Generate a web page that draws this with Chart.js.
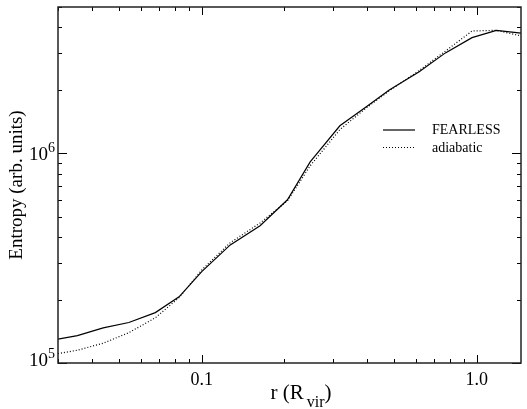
<!DOCTYPE html>
<html>
<head>
<meta charset="utf-8">
<script src="https://cdn.jsdelivr.net/npm/chart.js@4/dist/chart.umd.min.js"></script>
<style>
  body { margin: 0; background: #fff; }
  #wrap { width: 527px; height: 409px; }
</style>
</head>
<body>
<div id="wrap"><canvas id="myChart"></canvas></div>
<script>
// radius in units of R_vir, entropy in arbitrary units
const radius = [0.030, 0.0353, 0.0438, 0.0543, 0.0678, 0.0827, 0.100, 0.127, 0.163, 0.205, 0.248, 0.318, 0.397, 0.481, 0.616, 0.770, 0.962, 1.18, 1.45];
const fearless = [1.30e5, 1.35e5, 1.47e5, 1.56e5, 1.74e5, 2.07e5, 2.73e5, 3.66e5, 4.52e5, 6.01e5, 9.12e5, 1.355e6, 1.67e6, 2.01e6, 2.45e6, 3.02e6, 3.57e6, 3.87e6, 3.75e6];
const adiabatic = [1.108e5, 1.151e5, 1.243e5, 1.395e5, 1.644e5, 2.05e5, 2.78e5, 3.75e5, 4.66e5, 5.94e5, 8.73e5, 1.30e6, 1.65e6, 1.99e6, 2.48e6, 3.08e6, 3.84e6, 3.87e6, 3.64e6];
const seriesNames = ["FEARLESS", "adiabatic"];
const xLabels = {0.1: "0.1", 1: "1.0"};
const yLabelExp = {100000: "5", 1000000: "6"};

const serif = '"Liberation Serif", "Times New Roman", serif';

function pts(ys) {
    return radius.map((r, i) => ({x: r, y: ys[i]}));
}

function logTicks(min, max) {
    const out = [];
    for (let d = Math.floor(Math.log10(min)); d <= Math.ceil(Math.log10(max)); d++) {
        for (let k = 1; k <= 9; k++) {
            const v = k * Math.pow(10, d);
            if (v >= min * 0.9999 && v <= max * 1.0001) out.push({v: v, major: k === 1});
        }
    }
    return out;
}

const framePlugin = {
    id: 'frame',
    afterDraw(chart) {
        const ctx = chart.ctx;
        const a = chart.chartArea;
        const xs = chart.scales.x, ys = chart.scales.y;
        ctx.save();
        // inward ticks on all four sides
        ctx.strokeStyle = '#000';
        ctx.lineWidth = 1;
        ctx.beginPath();
        logTicks(xs.min, xs.max).forEach(t => {
            const p = Math.round(xs.getPixelForValue(t.v)) + 0.5;
            const len = t.major ? 8 : 4;
            ctx.moveTo(p, a.bottom); ctx.lineTo(p, a.bottom - len);
            ctx.moveTo(p, a.top); ctx.lineTo(p, a.top + len);
        });
        logTicks(ys.min, ys.max).forEach(t => {
            const p = Math.round(ys.getPixelForValue(t.v)) + 0.5;
            const len = t.major ? 9 : 4;
            ctx.moveTo(a.left, p); ctx.lineTo(a.left + len, p);
            ctx.moveTo(a.right, p); ctx.lineTo(a.right - len, p);
        });
        ctx.stroke();

        // frame
        ctx.strokeStyle = '#222';
        ctx.lineWidth = 1.5;
        ctx.strokeRect(a.left, a.top, a.right - a.left, a.bottom - a.top);

        // y tick labels with superscript exponent
        ctx.fillStyle = '#000';
        ctx.textBaseline = 'alphabetic';
        Object.keys(yLabelExp).forEach(k => {
            const p = ys.getPixelForValue(Number(k));
            const base = Math.min(p + 7, a.bottom + 2.5);
            ctx.font = '14px ' + serif;
            const e = yLabelExp[k];
            const ew = ctx.measureText(e).width;
            ctx.textAlign = 'left';
            ctx.fillText(e, 55 - ew, base - 8);
            ctx.font = '19px ' + serif;
            ctx.textAlign = 'right';
            ctx.fillText('10', 55 - ew, base);
        });

        // x axis title with subscript
        ctx.textAlign = 'left';
        const t1 = 'r (R', t2 = 'vir', t3 = ')';
        ctx.font = '21px ' + serif;
        const w1 = ctx.measureText(t1).width, w3 = ctx.measureText(t3).width;
        ctx.font = '16px ' + serif;
        const w2 = ctx.measureText(t2).width + 3;
        let x0 = 301 - (w1 + w2 + w3) / 2;
        ctx.font = '21px ' + serif;
        ctx.fillText(t1, x0, 399);
        ctx.font = '16px ' + serif;
        ctx.fillText(t2, x0 + w1 + 3, 407);
        ctx.font = '21px ' + serif;
        ctx.fillText(t3, x0 + w1 + w2, 399);

        // y axis title
        ctx.save();
        ctx.translate(22, (a.top + a.bottom) / 2);
        ctx.rotate(-Math.PI / 2);
        ctx.textAlign = 'center';
        ctx.font = '19px ' + serif;
        ctx.fillText('Entropy (arb. units)', 0, 0);
        ctx.restore();

        // legend inside the plot
        chart.data.datasets.forEach((ds, i) => {
            const ly = 130 + i * 17.5;
            ctx.strokeStyle = ds.borderColor;
            ctx.lineWidth = ds.borderWidth;
            ctx.setLineDash(ds.borderDash || []);
            ctx.beginPath();
            ctx.moveTo(383, ly); ctx.lineTo(415, ly);
            ctx.stroke();
            ctx.setLineDash([]);
            ctx.fillStyle = '#000';
            ctx.font = '14px ' + serif;
            ctx.textAlign = 'left';
            ctx.fillText(ds.label, 432, ly + 4);
        });
        ctx.restore();
    }
};

new Chart("myChart", {
    type: "line",
    data: {
        datasets: [{
            label: seriesNames[0],
            data: pts(fearless),
            borderColor: "#000",
            borderWidth: 1.2,
            pointRadius: 0,
            tension: 0,
            fill: false
        }, {
            label: seriesNames[1],
            data: pts(adiabatic),
            borderColor: "#000",
            borderWidth: 1.2,
            borderDash: [1, 2],
            pointRadius: 0,
            tension: 0,
            fill: false
        }]
    },
    options: {
        responsive: true,
        maintainAspectRatio: false,
        animation: false,
        layout: { padding: { left: 0, top: 7, right: 1, bottom: 0 } },
        plugins: {
            legend: { display: false },
            tooltip: { enabled: false }
        },
        scales: {
            x: {
                type: 'logarithmic',
                min: 0.03,
                max: 1.45,
                grid: { display: false, drawTicks: false },
                border: { display: false },
                ticks: {
                    autoSkip: false,
                    maxRotation: 0,
                    padding: 6,
                    color: '#000',
                    font: { family: serif, size: 18 },
                    callback: v => xLabels[v] || ''
                },
                afterFit: s => { s.height = 46; }
            },
            y: {
                type: 'logarithmic',
                min: 1e5,
                max: 5e6,
                grid: { display: false },
                border: { display: false },
                ticks: { display: false },
                afterFit: s => { s.width = 58; }
            }
        }
    },
    plugins: [framePlugin]
});
</script>
</body>
</html>
